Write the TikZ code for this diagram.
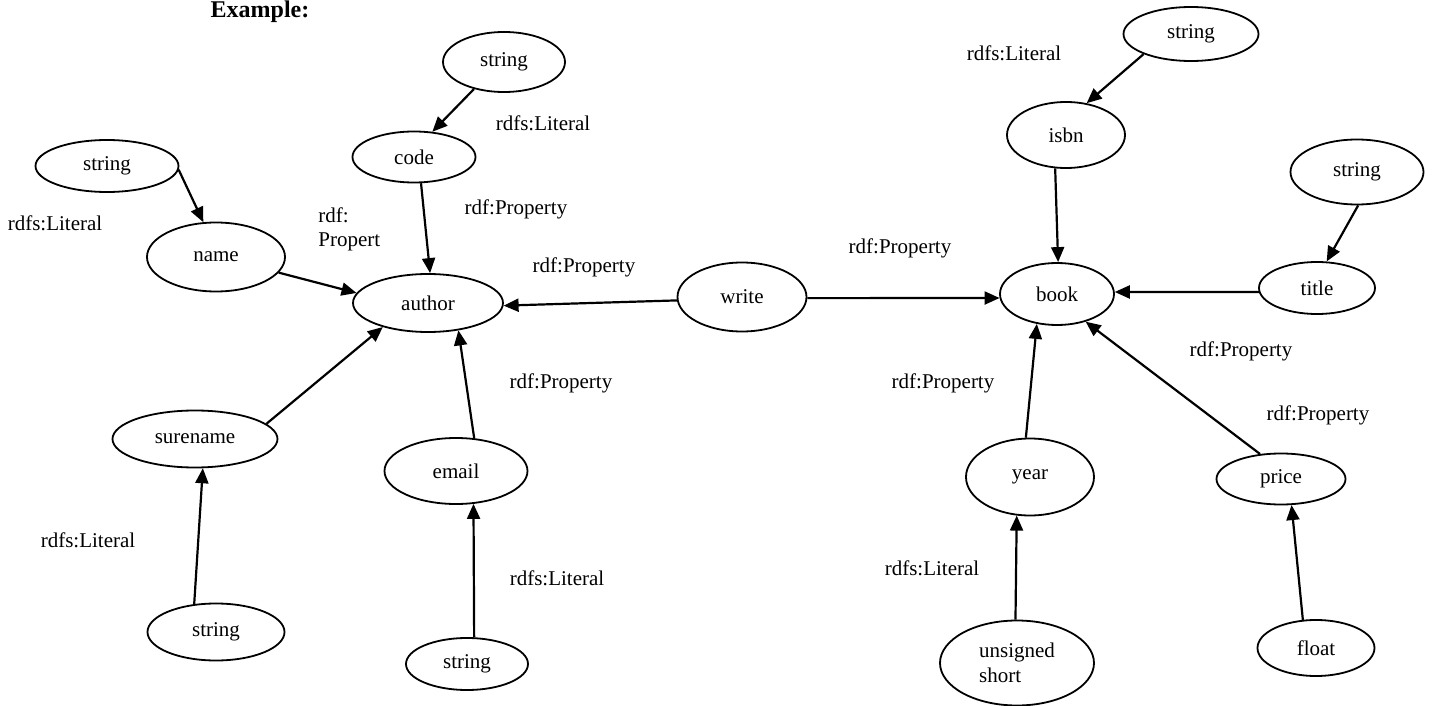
\documentclass[tikz,border=0pt]{standalone}
\usepackage{fontspec}
\setmainfont{Liberation Serif}
\usetikzlibrary{shapes.geometric,arrows.meta}

\begin{document}
\begin{tikzpicture}[x=0.5pt, y=-0.5pt,
	cls/.style={draw, ellipse, line width=0.9pt, inner sep=0pt, font=\fontsize{10.5}{12.5}\selectfont},
	lbl/.style={inner sep=0pt, font=\fontsize{10.5}{12}\selectfont},
	arr/.style={-{Triangle[length=7.5pt,width=6.5pt]}, line width=1.1pt}]
		
		\useasboundingbox (0,0) rectangle (1432,706);
		
		% Heading
		\node[font=\bfseries\fontsize{12}{14}\selectfont] (ttl) at (260,12) {Example:};
		
		% author and its properties
		\node[cls, minimum width=61pt, minimum height=30pt] (strcode) at (504,62) {string};
		
		\node[cls, minimum width=61.5pt, minimum height=25.5pt] (code) at (414,157) {code};
		
		\node[cls, minimum width=71.5pt, minimum height=26pt] (strname) at (107,166) {string};
		
		\node[cls, minimum width=69pt, minimum height=34.5pt] (name) at (216,257) {name};
		
		\node[cls, minimum width=75pt, minimum height=29pt] (author) at (428,303) {author};
		
		\node[cls, minimum width=82.5pt, minimum height=28.5pt] (surename) at (195,439) {surename};
		
		\node[cls, minimum width=71.5pt, minimum height=33pt] (email) at (456,471) {email};
		
		\node[cls, minimum width=68.5pt, minimum height=28.5pt] (strsurename) at (216,632) {string};
		
		\node[cls, minimum width=61pt, minimum height=26pt] (stremail) at (467,664) {string};
		
		% write
		\node[cls, minimum width=64.5pt, minimum height=34.5pt] (write) at (742,297) {write};
		
		% book and its properties
		\node[cls, minimum width=57pt, minimum height=31pt] (book) at (1057,294) {book};
		
		\node[cls, minimum width=59pt, minimum height=33pt] (isbn) at (1066,135) {isbn};
		
		\node[cls, minimum width=67.5pt, minimum height=27pt] (strisbn) at (1191,34) {string};
		
		\node[cls, minimum width=66.5pt, minimum height=32.5pt] (strtitle) at (1357,172) {string};
		
		\node[cls, minimum width=58pt, minimum height=26pt] (title) at (1317,288) {title};
		
		\node[cls, minimum width=64pt, minimum height=38.5pt] (year) at (1030,477) {year};
		
		\node[cls, minimum width=64.5pt, minimum height=25.5pt] (price) at (1281,479) {price};
		
		\node[cls, minimum width=77pt, minimum height=42.5pt, align=left] (ushort) at (1017,663) {unsigned\\short};
		
		\node[cls, minimum width=58.5pt, minimum height=28pt] (float) at (1316,648) {float};
		
		% connectors
		\draw[arr] (strcode.-138) -- (code.54);
		\draw[arr] (strname.-3) -- (name.110);
		\draw[arr] (code.-75) -- (author.86);
		\draw[arr] (name.-14) -- (author.172);
		\draw[arr] (surename.12) -- (author.-152);
		\draw[arr] (email.61) -- (author.-42);
		\draw[arr] (strsurename.128) -- (surename.-75);
		\draw[arr] (stremail.75) -- (email.-62);
		\draw[arr] (write.183) -- (author.-2);
		\draw[arr] (write.-1) -- (book.184);
		\draw[arr] (isbn.-108) -- (book.88);
		\draw[arr] (strisbn.-157) -- (isbn.57);
		\draw[arr] (strtitle.-88) -- (title.70);
		\draw[arr] (title.184) -- (book.2);
		\draw[arr] (year.96) -- (book.-124);
		\draw[arr] (price.130) -- (book.-44);
		\draw[arr] (ushort.92) -- (year.-109);
		\draw[arr] (float.115) -- (price.-68);
		
		% type labels
		\node[lbl] (l1) at (543,123) {rdfs:Literal};
		\node[lbl] (l2) at (55,223) {rdfs:Literal};
		\node[lbl] (l3) at (516,209) {rdf:Property};
		\node[lbl, align=left, anchor=west] (l4) at (318,229) {rdf:\\Propert};
		\node[lbl] (l5) at (584,267) {rdf:Property};
		\node[lbl] (l6) at (900,248) {rdf:Property};
		\node[lbl] (l7) at (1014,53) {rdfs:Literal};
		\node[lbl] (l8) at (561,383) {rdf:Property};
		\node[lbl] (l9) at (943,383) {rdf:Property};
		\node[lbl] (l10) at (1241,351) {rdf:Property};
		\node[lbl] (l11) at (1318,415) {rdf:Property};
		\node[lbl] (l12) at (88,540) {rdfs:Literal};
		\node[lbl] (l13) at (557,578) {rdfs:Literal};
		\node[lbl] (l14) at (932,568) {rdfs:Literal};
		
	\end{tikzpicture}
\end{document}
